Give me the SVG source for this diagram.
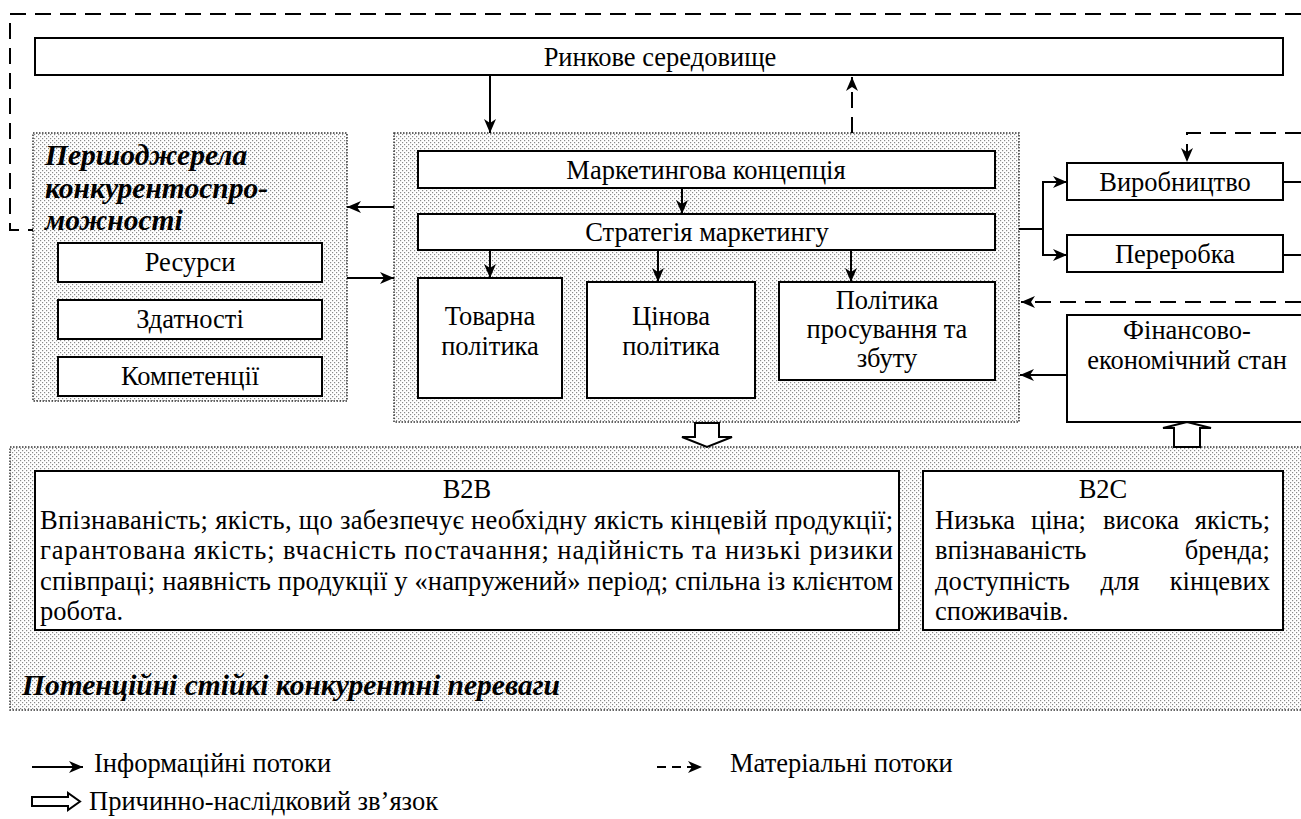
<svg xmlns="http://www.w3.org/2000/svg" width="1301" height="819" viewBox="0 0 1301 819">
<defs>
<pattern id="dots" width="4" height="4" patternUnits="userSpaceOnUse">
<rect width="4" height="4" fill="#ffffff"/>
<rect x="0" y="0" width="1.2" height="1.2" fill="#8a8a8a"/>
<rect x="2" y="2" width="1.2" height="1.2" fill="#8a8a8a"/>
</pattern>
<marker id="ah" markerUnits="userSpaceOnUse" markerWidth="15" markerHeight="12" refX="14" refY="6" orient="auto">
<path d="M0,0 L14,6 L0,12 L4,6 z" fill="#000"/>
</marker>
</defs>
<style>
.m{text-anchor:middle}
.box{fill:#fff;stroke:#000;stroke-width:2}
.reg{fill:url(#dots);stroke:#333;stroke-width:1.5;stroke-dasharray:1.5 1.5}
.ln{fill:none;stroke:#000;stroke-width:2}
.da{fill:none;stroke:#000;stroke-width:2;stroke-dasharray:16 9}
.blk{fill:#fff;stroke:#000;stroke-width:2}
</style>

<!-- regions -->
<g id="region-sources">
<rect class="reg" x="33" y="133" width="314" height="268"/>
<text x="45" y="165" font-family="Liberation Serif" style="font-size:29.5px;font-weight:bold;font-style:italic">Першоджерела</text>
<text x="45" y="198" font-family="Liberation Serif" style="font-size:29.5px;font-weight:bold;font-style:italic">конкурентоспро-</text>
<text x="45" y="230" font-family="Liberation Serif" style="font-size:29.5px;font-weight:bold;font-style:italic">можності</text>
</g>
<g id="region-marketing">
<rect class="reg" x="394" y="133" width="625" height="289"/>
</g>
<g id="region-advantages">
<rect class="reg" x="10" y="447" width="1300" height="263"/>
<text x="22" y="695" font-family="Liberation Serif" style="font-size:29.5px;font-weight:bold;font-style:italic">Потенційні стійкі конкурентні переваги</text>
</g>

<!-- nodes -->
<g id="market">
<rect class="box" x="35" y="38" width="1248" height="37"/>
<text class="m" x="660" y="66" font-family="Liberation Serif" style="font-size:26.5px">Ринкове середовище</text>
</g>
<g id="resources">
<rect class="box" x="58" y="243" width="264" height="39"/>
<text class="m" x="190" y="271" font-family="Liberation Serif" style="font-size:26.5px">Ресурси</text>
</g>
<g id="abilities">
<rect class="box" x="58" y="300" width="264" height="39"/>
<text class="m" x="190" y="328" font-family="Liberation Serif" style="font-size:26.5px">Здатності</text>
</g>
<g id="competences">
<rect class="box" x="58" y="357" width="264" height="39"/>
<text class="m" x="190" y="385" font-family="Liberation Serif" style="font-size:26.5px">Компетенції</text>
</g>
<g id="concept">
<rect class="box" x="418" y="151" width="577" height="37"/>
<text class="m" x="706" y="179" font-family="Liberation Serif" style="font-size:26.5px">Маркетингова концепція</text>
</g>
<g id="strategy">
<rect class="box" x="418" y="214" width="577" height="36"/>
<text class="m" x="707" y="241" font-family="Liberation Serif" style="font-size:26.5px">Стратегія маркетингу</text>
</g>
<g id="product">
<rect class="box" x="418" y="278" width="144" height="120"/>
<text class="m" x="490" y="325" font-family="Liberation Serif" style="font-size:26.5px">Товарна</text>
<text class="m" x="490" y="355" font-family="Liberation Serif" style="font-size:26.5px">політика</text>
</g>
<g id="price">
<rect class="box" x="587" y="282" width="168" height="116"/>
<text class="m" x="671" y="325" font-family="Liberation Serif" style="font-size:26.5px">Цінова</text>
<text class="m" x="671" y="355" font-family="Liberation Serif" style="font-size:26.5px">політика</text>
</g>
<g id="promotion">
<rect class="box" x="779" y="282" width="216" height="98"/>
<text class="m" x="887" y="309" font-family="Liberation Serif" style="font-size:26.5px">Політика</text>
<text class="m" x="887" y="338" font-family="Liberation Serif" style="font-size:26.5px">просування та</text>
<text class="m" x="887" y="367" font-family="Liberation Serif" style="font-size:26.5px">збуту</text>
</g>
<g id="production">
<rect class="box" x="1067" y="163" width="216" height="37"/>
<text class="m" x="1175" y="191" font-family="Liberation Serif" style="font-size:26.5px">Виробництво</text>
</g>
<g id="processing">
<rect class="box" x="1067" y="235" width="216" height="37"/>
<text class="m" x="1175" y="263" font-family="Liberation Serif" style="font-size:26.5px">Переробка</text>
</g>
<g id="finance">
<rect class="box" x="1067" y="315" width="260" height="107"/>
<text class="m" x="1187" y="339" font-family="Liberation Serif" style="font-size:26.5px">Фінансово-</text>
<text class="m" x="1187" y="369" font-family="Liberation Serif" style="font-size:26.5px">економічний стан</text>
</g>
<g id="b2b">
<rect class="box" x="35" y="471" width="864" height="159"/>
<text class="m" x="467" y="498" font-family="Liberation Serif" style="font-size:26.5px">B2B</text>
<text x="40" y="529" textLength="853" lengthAdjust="spacing" font-family="Liberation Serif" style="font-size:26.5px">Впізнаваність; якість, що забезпечує необхідну якість кінцевій продукції;</text>
<text x="40" y="559" textLength="853" lengthAdjust="spacing" font-family="Liberation Serif" style="font-size:26.5px">гарантована якість; вчасність постачання; надійність та низькі ризики</text>
<text x="40" y="590" textLength="853" lengthAdjust="spacing" font-family="Liberation Serif" style="font-size:26.5px">співпраці; наявність продукції у «напружений» період; спільна із клієнтом</text>
<text x="40" y="620" font-family="Liberation Serif" style="font-size:26.5px">робота.</text>
</g>
<g id="b2c">
<rect class="box" x="923" y="471" width="360" height="159"/>
<text class="m" x="1103" y="498" font-family="Liberation Serif" style="font-size:26.5px">B2C</text>
<text x="935" y="529" font-family="Liberation Serif" style="font-size:26.5px">Низька</text>
<text x="1031" y="529" font-family="Liberation Serif" style="font-size:26.5px">ціна;</text>
<text x="1103" y="529" font-family="Liberation Serif" style="font-size:26.5px">висока</text>
<text x="1270" y="529" text-anchor="end" font-family="Liberation Serif" style="font-size:26.5px">якість;</text>
<text x="935" y="559" font-family="Liberation Serif" style="font-size:26.5px">впізнаваність</text>
<text x="1270" y="559" text-anchor="end" font-family="Liberation Serif" style="font-size:26.5px">бренда;</text>
<text x="935" y="590" font-family="Liberation Serif" style="font-size:26.5px">доступність</text>
<text class="m" x="1120" y="590" font-family="Liberation Serif" style="font-size:26.5px">для</text>
<text x="1270" y="590" text-anchor="end" font-family="Liberation Serif" style="font-size:26.5px">кінцевих</text>
<text x="935" y="620" font-family="Liberation Serif" style="font-size:26.5px">споживачів.</text>
</g>

<!-- connectors -->
<g id="connectors">
<path class="da" d="M1301,14 H10 V230 H33"/>
<line class="ln" x1="490" y1="75" x2="490" y2="133" marker-end="url(#ah)"/>
<line class="da" x1="852" y1="133" x2="852" y2="77" marker-end="url(#ah)"/>
<line class="ln" x1="394" y1="207" x2="347" y2="207" marker-end="url(#ah)"/>
<line class="ln" x1="347" y1="278" x2="394" y2="278" marker-end="url(#ah)"/>
<line class="ln" x1="682" y1="188" x2="682" y2="214" marker-end="url(#ah)"/>
<line class="ln" x1="490" y1="250" x2="490" y2="278" marker-end="url(#ah)"/>
<line class="ln" x1="658" y1="250" x2="658" y2="282" marker-end="url(#ah)"/>
<line class="ln" x1="851" y1="250" x2="851" y2="282" marker-end="url(#ah)"/>
<path class="ln" d="M1019,229 H1043 M1043,182 V255"/>
<line class="ln" x1="1042" y1="182" x2="1067" y2="182" marker-end="url(#ah)"/>
<line class="ln" x1="1042" y1="255" x2="1067" y2="255" marker-end="url(#ah)"/>
<line class="ln" x1="1283" y1="182" x2="1301" y2="182"/>
<line class="ln" x1="1283" y1="255" x2="1301" y2="255"/>
<path class="da" d="M1301,133 H1187 V162" marker-end="url(#ah)"/>
<line class="da" x1="1301" y1="302" x2="1021" y2="302" marker-end="url(#ah)"/>
<line class="ln" x1="1067" y1="375" x2="1020" y2="375" marker-end="url(#ah)"/>
<path class="blk" d="M695,423 H719 V437 H732 L707,447 L682,437 H695 Z"/>
<path class="blk" d="M1174,447 V428 H1163 L1187,422 L1211,428 H1200 V447 Z"/>
</g>

<!-- legend -->
<g id="legend">
<line class="ln" x1="32" y1="767" x2="83" y2="767" marker-end="url(#ah)"/>
<text x="94" y="772" font-family="Liberation Serif" style="font-size:26.5px">Інформаційні потоки</text>
<line x1="657" y1="767" x2="702" y2="767" stroke="#000" stroke-width="2" stroke-dasharray="9 6" marker-end="url(#ah)"/>
<text x="730" y="772" font-family="Liberation Serif" style="font-size:26.5px">Матеріальні потоки</text>
<path class="blk" d="M32,797 H68 V793 L80,801.5 L68,810 V806 H32 Z"/>
<text x="89" y="810" font-family="Liberation Serif" style="font-size:26.5px">Причинно-наслідковий зв’язок</text>
</g>
</svg>
